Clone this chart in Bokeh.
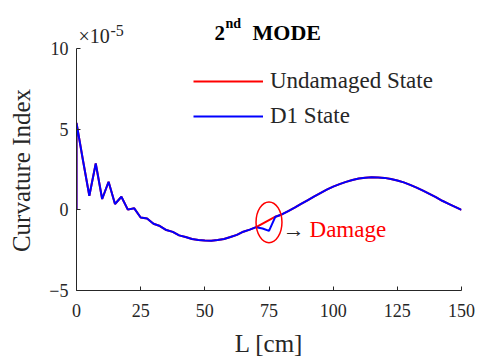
from bokeh.plotting import figure
from bokeh.models import Range1d, FixedTicker, Legend, LegendItem, Label
from bokeh.embed import file_html
from bokeh.resources import INLINE

# Data (curvature index in units of 1e-5)
L_cm = [0, 0, 2.5, 5, 7.5, 10, 12.5, 15, 17.5, 20, 22.5, 25, 27.5, 30, 32.5, 35, 37.5,
        40, 42.5, 45, 47.5, 50, 52.5, 55, 57.5, 60, 62.5, 65, 67.5, 70, 72.5, 75, 77.5,
        80, 82.5, 85, 87.5, 90, 92.5, 95, 97.5, 100, 102.5, 105, 107.5, 110, 112.5, 115,
        117.5, 120, 122.5, 125, 127.5, 130, 132.5, 135, 137.5, 140, 142.5, 145, 147.5, 150]
d1_state = [0, 5.4, 3.1, 0.88, 2.88, 0.68, 1.75, 0.37, 0.82, 0.02, 0.1, -0.47, -0.53, -0.86,
            -1.0, -1.25, -1.36, -1.58, -1.68, -1.8, -1.86, -1.9, -1.91, -1.87, -1.8, -1.68,
            -1.55, -1.35, -1.22, -1.07, -1.15, -1.3, -0.42, -0.28, -0.07, 0.14, 0.37, 0.6,
            0.83, 1.05, 1.26, 1.45, 1.6, 1.74, 1.86, 1.95, 2.0, 2.03, 2.02, 1.99, 1.92, 1.83,
            1.71, 1.56, 1.39, 1.2, 1.0, 0.8, 0.57, 0.38, 0.19, 0.0]
undamaged_state = [0, 5.4, 3.1, 0.88, 2.88, 0.68, 1.75, 0.37, 0.82, 0.02, 0.1, -0.47, -0.53,
                   -0.86, -1.0, -1.25, -1.36, -1.58, -1.68, -1.8, -1.86, -1.9, -1.91, -1.87,
                   -1.8, -1.68, -1.55, -1.35, -1.22, -1.07, -0.85, -0.63, -0.42, -0.28, -0.07,
                   0.14, 0.37, 0.6, 0.83, 1.05, 1.26, 1.45, 1.6, 1.74, 1.86, 1.95, 2.0, 2.03,
                   2.02, 1.99, 1.92, 1.83, 1.71, 1.56, 1.39, 1.2, 1.0, 0.8, 0.57, 0.38, 0.19, 0.0]
x_ticks = [0, 25, 50, 75, 100, 125, 150]
y_ticks = [-5, 0, 5, 10]
x_lo, x_hi = 0, 150
y_lo, y_hi = -5, 10
damage_center_x = [75.0]
damage_center_y = [-0.765]
damage_width = 10.1
damage_height = 2.53

FONT = "Liberation Serif"
AX = "#262626"
NBSP = "\u00a0"

# frame extended above the axis top so the title texts are not clipped
p = figure(width=479, height=359, output_backend="svg", toolbar_location=None,
           x_range=Range1d(x_lo, x_hi), y_range=Range1d(y_lo, 13.0),
           min_border_left=76, min_border_right=18, min_border_top=0, min_border_bottom=67)
p.outline_line_color = None
p.xgrid.visible = False
p.ygrid.visible = False
p.background_fill_color = "white"
p.border_fill_color = "white"

for ax in (p.xaxis[0], p.yaxis[0]):
    ax.axis_line_color = AX
    ax.axis_line_width = 1
    ax.major_tick_line_color = AX
    ax.major_tick_in = 4
    ax.major_tick_out = 0
    ax.minor_tick_line_color = None
    ax.major_label_text_font = FONT
    ax.major_label_text_font_size = "18px"
    ax.major_label_text_color = AX
    ax.axis_label_text_font = FONT
    ax.axis_label_text_font_size = "25px"
    ax.axis_label_text_font_style = "normal"
    ax.axis_label_text_color = AX

p.yaxis.bounds = (y_lo, y_hi)
p.xaxis.ticker = FixedTicker(ticks=x_ticks)
p.yaxis.ticker = FixedTicker(ticks=y_ticks)
p.xaxis.major_label_standoff = 13
p.yaxis.major_label_standoff = 8
p.xaxis.axis_label = "L [cm]"
# trailing no-break spaces keep the label centred on the drawn axis (-5..10), not the taller frame
p.yaxis.axis_label = "Curvature Index" + NBSP * 8
p.xaxis.axis_label_standoff = 10
p.yaxis.axis_label_standoff = 11

r_red = p.line(L_cm, undamaged_state, line_color="#ff0000", line_width=2)
r_blue = p.line(L_cm, d1_state, line_color="#0000ff", line_width=2)

p.ellipse(x=damage_center_x, y=damage_center_y, width=damage_width, height=damage_height,
          fill_color=None, line_color="#ff0000", line_width=1.5)

p.add_layout(Label(x=damage_center_x[0] + 5.4, y=damage_center_y[0] - 0.42, text="\u2192",
                   text_font=FONT, text_font_size="22px", text_color=AX,
                   text_baseline="middle"))
p.add_layout(Label(x=damage_center_x[0] + 15.8, y=damage_center_y[0] - 0.47, text="Damage",
                   text_font=FONT, text_font_size="23px", text_color="#ff0000",
                   text_baseline="middle"))

legend = Legend(items=[LegendItem(label="Undamaged State", renderers=[r_red]),
                       LegendItem(label="D1 State", renderers=[r_blue])],
                location=(117, 161), orientation="vertical",
                border_line_color=None, background_fill_alpha=0,
                glyph_width=70, glyph_height=20, label_height=20, spacing=9,
                padding=0, margin=0, label_standoff=7,
                label_text_font=FONT, label_text_font_size="23px", label_text_color=AX)
p.add_layout(legend)

# title "2nd MODE"
p.add_layout(Label(x=138, y=258, x_units="screen", y_units="screen", text="2",
                   text_font=FONT, text_font_size="21px", text_font_style="bold",
                   text_color="black", text_baseline="alphabetic"))
p.add_layout(Label(x=149, y=267, x_units="screen", y_units="screen", text="nd",
                   text_font=FONT, text_font_size="14px", text_font_style="bold",
                   text_color="black", text_baseline="alphabetic"))
p.add_layout(Label(x=176, y=258, x_units="screen", y_units="screen", text="MODE",
                   text_font=FONT, text_font_size="22px", text_font_style="bold",
                   text_color="black", text_baseline="alphabetic"))

# exponent "x10^-5"
p.add_layout(Label(x=2, y=255, x_units="screen", y_units="screen", text="\u00d710",
                   text_font=FONT, text_font_size="20px", text_color=AX,
                   text_baseline="alphabetic"))
p.add_layout(Label(x=34, y=260.5, x_units="screen", y_units="screen", text="-5",
                   text_font=FONT, text_font_size="16px", text_color=AX,
                   text_baseline="alphabetic"))

open("out.html", "w").write(file_html(p, INLINE))
